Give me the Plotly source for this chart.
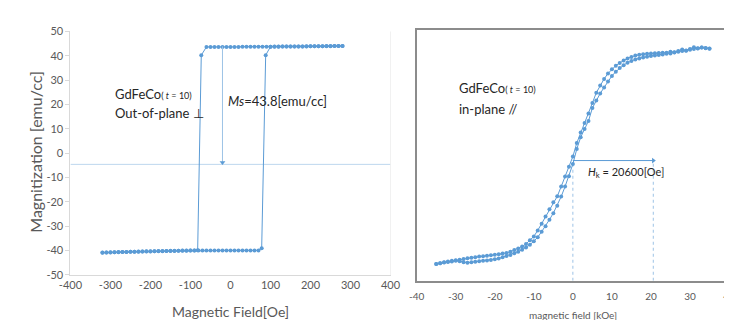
import plotly.graph_objects as go

# ---------------- Left panel data (out-of-plane) ----------------
oop_desc_H = [280, 270, 260, 250, 240, 230, 220, 210, 200, 190, 180, 170, 160, 150, 140, 130, 120, 110, 100,
              90, 80, 70, 60, 50, 40, 30, 20, 10, 0, -10, -20, -30, -40, -50, -60,
              -73, -82,
              -90, -100, -110, -120, -130, -140, -150, -160, -170, -180, -190, -200, -210, -220, -230, -240,
              -250, -260, -270, -280, -290, -300, -310, -320]
oop_desc_M = [44.0, 44.0, 44.0, 43.9, 43.9, 43.9, 43.9, 43.9, 43.9, 43.8, 43.8, 43.8, 43.8, 43.8, 43.8, 43.8, 43.8, 43.8, 43.7,
              43.7, 43.7, 43.7, 43.7, 43.7, 43.7, 43.7, 43.6, 43.6, 43.6, 43.6, 43.6, 43.6, 43.6, 43.6, 43.6,
              40.2, -39.8,
              -40.0, -40.0, -40.1, -40.1, -40.1, -40.2, -40.2, -40.2, -40.3, -40.3, -40.3, -40.4, -40.4, -40.4, -40.5, -40.5,
              -40.5, -40.6, -40.6, -40.6, -40.7, -40.7, -40.8, -40.8]
oop_asc_H = [-320, -310, -300, -290, -280, -270, -260, -250, -240, -230, -220, -210, -200, -190, -180, -170,
             -160, -150, -140, -130, -120, -110, -100, -90, -80, -70, -60, -50, -40, -30, -20, -10, 0,
             10, 20, 30, 40, 50, 60, 70,
             78, 88,
             100, 110, 120, 130, 140, 150, 160, 170, 180, 190, 200, 210, 220, 230, 240, 250, 260, 270, 280]
oop_asc_M = [-40.9, -40.8, -40.8, -40.7, -40.7, -40.6, -40.6, -40.5, -40.5, -40.4, -40.4, -40.3, -40.3, -40.3, -40.2, -40.2,
             -40.2, -40.1, -40.1, -40.1, -40.0, -40.0, -40.0, -40.0, -40.0, -40.0, -40.0, -40.0, -40.0, -39.9, -39.9, -39.9, -39.9,
             -39.9, -39.9, -39.9, -39.9, -39.9, -39.9, -39.9,
             -39.0, 40.2,
             43.7, 43.7, 43.7, 43.8, 43.8, 43.8, 43.8, 43.8, 43.8, 43.9, 43.9, 43.9, 43.9, 43.9, 44.0, 44.0, 44.0, 44.0, 44.0]
oop_Ms = 43.8
oop_Ms_arrow_H = -20
oop_Ms_arrow_bottom = -3.8
oop_baseline = -4.6

# ---------------- Right panel data (in-plane) ----------------
ip_H = [-35, -34, -33, -32, -31, -30, -29, -28, -27, -26, -25, -24, -23, -22, -21, -20, -19, -18, -17, -16,
        -15, -14, -13, -12, -11, -10, -9, -8, -7, -6, -5, -4, -3, -2, -1, 0, 1, 2, 3, 4, 5, 6, 7, 8, 9, 10,
        11, 12, 13, 14, 15, 16, 17, 18, 19, 20, 21, 22, 23, 24, 25, 26, 27, 28, 29, 30, 31, 32, 33, 34, 35]
ip_desc_M = [-43.3, -43.0, -42.6, -42.3, -42.0, -41.8, -41.6, -41.3, -41.0, -40.8, -40.6, -40.3, -40.2, -40.0, -39.8,
             -39.6, -39.4, -39.1, -38.9, -38.4, -37.7, -37.1, -36.3, -35.3, -33.8, -32.3, -29.9, -27.2, -24.3, -21.4,
             -18.7, -16.3, -12.4, -8.4, -4.5, -0.4, 5.0, 9.2, 13.0, 16.8, 21.0, 25.1, 28.0, 30.6, 32.8, 34.5,
             35.9, 37.0, 38.0, 38.8, 39.4, 40.0, 40.3, 40.5, 40.7, 40.8, 40.9, 41.0, 41.1, 41.1, 41.5, 41.3,
             41.8, 42.4, 41.9, 42.6, 43.3, 42.8, 43.2, 42.9, 42.7]
ip_asc_M = [-43.3, -43.0, -42.7, -42.5, -42.3, -42.0, -42.2, -42.6, -42.8, -42.6, -42.4, -42.2, -42.0, -41.9, -41.7,
            -41.4, -41.1, -40.6, -40.1, -39.7, -39.0, -38.4, -37.6, -36.7, -35.6, -34.2, -32.6, -30.4, -28.2, -25.6,
            -23.0, -20.0, -16.4, -12.4, -8.3, -3.4, 2.6, 7.3, 10.6, 13.8, 19.0, 22.0, 24.8, 27.2, 29.6, 31.8,
            33.5, 35.0, 36.1, 37.1, 37.8, 38.4, 38.8, 39.2, 39.5, 39.8, 40.0, 40.2, 40.4, 40.7, 40.8, 41.2,
            41.5, 41.8, 42.0, 42.3, 42.6, 42.9, 43.2, 43.0, 42.8]
ip_Hk = 20.6
ip_Hk_level = -2.0

left_x_ticks = [-400, -300, -200, -100, 0, 100, 200, 300, 400]
left_x_labels = ["-400", "-300", "-200", "-100", "0", "100", "200", "300", "400"]
left_y_ticks = [-50, -40, -30, -20, -10, 0, 10, 20, 30, 40, 50]
left_y_labels = ["-50", "-40", "-30", "-20", "-10", "0", "10", "20", "30", "40", "50"]
right_x_ticks = [-40, -30, -20, -10, 0, 10, 20, 30, 40]
right_x_labels = ["-40", "-30", "-20", "-10", "0", "10", "20", "30", "40"]

W, H = 732, 320
BLUE = "#5B9BD5"
LIGHT = "#9DC3E6"
GRAY_TXT = "#595959"
FONT = "Lato"


def px(x):
    return x / W


def py(y):
    return 1 - y / H


fig = go.Figure()

mk = dict(size=4, color=BLUE)
ln = dict(color=BLUE, width=1)

fig.add_trace(go.Scatter(x=oop_desc_H, y=oop_desc_M, mode="lines+markers", marker=mk, line=ln,
                         xaxis="x", yaxis="y", showlegend=False, hoverinfo="skip"))
fig.add_trace(go.Scatter(x=oop_asc_H, y=oop_asc_M, mode="lines+markers", marker=mk, line=ln,
                         xaxis="x", yaxis="y", showlegend=False, hoverinfo="skip"))
fig.add_trace(go.Scatter(x=ip_H, y=ip_desc_M, mode="lines+markers", marker=mk, line=ln,
                         xaxis="x2", yaxis="y2", showlegend=False, hoverinfo="skip"))
fig.add_trace(go.Scatter(x=ip_H, y=ip_asc_M, mode="lines+markers", marker=mk, line=ln,
                         xaxis="x2", yaxis="y2", showlegend=False, hoverinfo="skip"))

# Ms arrow (line + head) and Hk arrow (line + head)
fig.add_trace(go.Scatter(x=[oop_Ms_arrow_H, oop_Ms_arrow_H], y=[oop_Ms, oop_Ms_arrow_bottom], mode="lines",
                         line=dict(color=LIGHT, width=1), xaxis="x", yaxis="y", showlegend=False, hoverinfo="skip"))
fig.add_trace(go.Scatter(x=[oop_Ms_arrow_H], y=[oop_Ms_arrow_bottom], mode="markers",
                         marker=dict(symbol="triangle-down", size=5, color=BLUE),
                         xaxis="x", yaxis="y", showlegend=False, hoverinfo="skip"))
fig.add_trace(go.Scatter(x=[0, ip_Hk], y=[ip_Hk_level, ip_Hk_level], mode="lines",
                         line=dict(color=BLUE, width=1), xaxis="x2", yaxis="y2", showlegend=False, hoverinfo="skip"))
fig.add_trace(go.Scatter(x=[ip_Hk], y=[ip_Hk_level], mode="markers",
                         marker=dict(symbol="triangle-right", size=5, color=BLUE),
                         xaxis="x2", yaxis="y2", showlegend=False, hoverinfo="skip"))

tickfont = dict(family=FONT, size=11, color=GRAY_TXT)

fig.update_layout(
    width=W, height=H,
    margin=dict(l=0, r=0, t=0, b=0),
    paper_bgcolor="white", plot_bgcolor="white",
    xaxis=dict(domain=[px(52), px(382)], range=[-400, 400], tickvals=left_x_ticks, ticktext=left_x_labels,
               showgrid=False, zeroline=False, showline=True, linecolor="#D9D9D9", linewidth=1,
               ticks="", tickfont=tickfont, anchor="y"),
    yaxis=dict(domain=[py(271), py(17)], range=[-50, 50], tickvals=left_y_ticks, ticktext=left_y_labels,
               showgrid=False, zeroline=False, showline=True, linecolor="#D9D9D9", linewidth=1,
               ticks="outside", ticklen=4, tickcolor="#D9D9D9", tickfont=tickfont, anchor="x"),
    xaxis2=dict(domain=[px(409), px(731)], range=[-40, 40], tickvals=right_x_ticks, ticktext=right_x_labels,
                showgrid=False, zeroline=False, showline=True, mirror=True, linecolor="#8C8C8C", linewidth=1.5,
                ticks="", tickfont=dict(family=FONT, size=10, color=GRAY_TXT), anchor="y2", ticklabelstandoff=6),
    yaxis2=dict(domain=[py(277), py(16)], range=[-50, 50], showticklabels=False,
                showgrid=False, zeroline=False, showline=True, mirror=True, linecolor="#8C8C8C", linewidth=1.5,
                ticks="", anchor="x2"),
)

# Left: light baseline, right border
fig.add_shape(type="line", xref="x", yref="y", x0=-400, x1=400, y0=oop_baseline, y1=oop_baseline,
              line=dict(color="#BDD7EE", width=1), layer="below")
fig.add_shape(type="line", xref="x", yref="y", x0=400, x1=400, y0=-50, y1=50,
              line=dict(color="#E3E3E3", width=1), layer="below")

# Right: dotted guides
fig.add_shape(type="line", xref="x2", yref="y2", x0=0, x1=0, y0=-50, y1=ip_Hk_level,
              line=dict(color=LIGHT, width=1, dash="dot"), layer="below")
fig.add_shape(type="line", xref="x2", yref="y2", x0=ip_Hk, x1=ip_Hk, y0=-50, y1=ip_Hk_level,
              line=dict(color=LIGHT, width=1, dash="dot"), layer="below")


def note(x, y, text, size=13, color="#262626", xanchor="left"):
    fig.add_annotation(x=px(x), y=py(y), xref="paper", yref="paper", text=text, showarrow=False,
                       xanchor=xanchor, yanchor="middle", font=dict(family=FONT, size=size, color=color))


note(96, 82, "GdFeCo<span style='font-size:9px'>( <i>t</i> = 10)</span>")
note(96, 102, "Out-of-plane ⊥")
note(212, 90, "<i>Ms</i>=43.8[emu/cc]")
note(451, 76, "GdFeCo<span style='font-size:9px'>( <i>t</i> = 10)</span>")
note(451, 98, "in-plane //")
note(584, 164, "<i>H</i><sub>k</sub> = 20600[Oe]", size=11)

# Axis titles
note(217, 309, "Magnetic Field[Oe]", size=14, color=GRAY_TXT, xanchor="center")
note(570, 313, "magnetic field [kOe]", size=10, color=GRAY_TXT, xanchor="center")
fig.add_annotation(x=px(16), y=py(143), xref="paper", yref="paper", text="Magnitization [emu/cc]",
                   showarrow=False, textangle=-90, xanchor="center", yanchor="middle",
                   font=dict(family=FONT, size=16, color=GRAY_TXT))

fig.write_html("out.html")
